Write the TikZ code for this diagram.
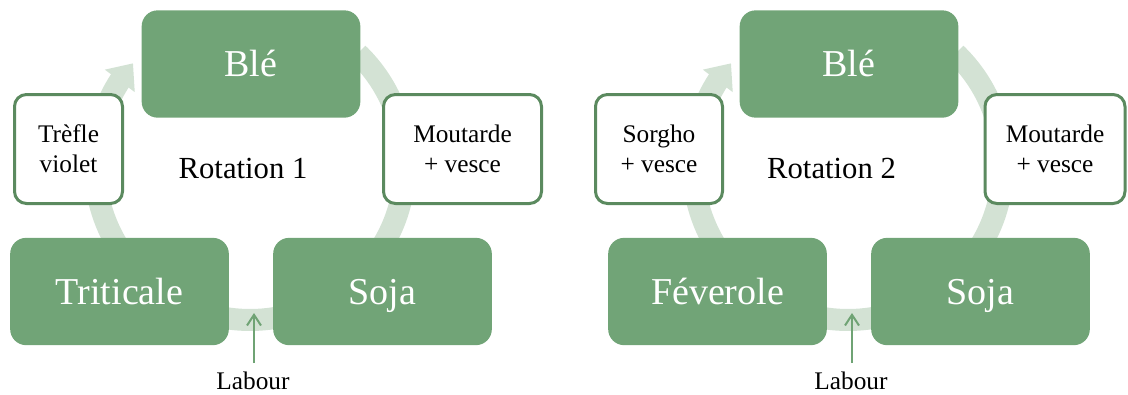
\documentclass[tikz,border=0pt]{standalone}
\usepackage{fontspec}
\setmainfont{Liberation Serif}
\usetikzlibrary{arrows.meta,bending}
\definecolor{boxgreen}{HTML}{71A477}
\definecolor{bordergreen}{HTML}{5B8A5F}
\definecolor{bandgreen}{HTML}{D3E2D4}
\definecolor{labgreen}{HTML}{6FA374}
\tikzset{
  bigbox/.style={rounded corners=12pt, fill=boxgreen, draw=none, text=white,
    font=\fontsize{28.5}{34}\selectfont, inner sep=0pt,
    minimum width=164pt, minimum height=80.5pt,
    text height=21pt, text depth=2pt},
  smallbox/.style={rounded corners=9pt, draw=bordergreen, line width=2.25pt, fill=white,
    font=\fontsize{19}{22.5}\selectfont, align=center, inner sep=0pt,
    minimum height=81.75pt},
  band/.style={draw=bandgreen, line width=16.5pt},
  bandtip/.style={band, -{Triangle[length=16.5pt,width=27pt,flex]}},
  rottext/.style={font=\fontsize{23}{27}\selectfont, anchor=base, inner sep=0pt},
  labtext/.style={font=\fontsize{19}{22}\selectfont, anchor=base, inner sep=0pt},
  labarrow/.style={draw=labgreen, line width=1.5pt, -{Straight Barb[length=8pt,width=10.5pt]}}
}
\begin{document}
\begin{tikzpicture}[x=0.75pt,y=0.75pt]
\useasboundingbox (0,0) rectangle (1128,394);

% ---------- Rotation 1 ----------
\coordinate (c1) at (250,229);
\draw[bandtip] (c1) ++(46:155) arc[start angle=46, end angle=-42, radius=155];
\draw[bandtip] (c1) ++(-70:155) arc[start angle=-70, end angle=-112, radius=155];
\draw[bandtip] (c1) ++(215:155) arc[start angle=215, end angle=139, radius=155];

\node[bigbox] (ble1) at (251,330) {Blé};
\node[bigbox] (tri1) at (119.5,102.5) {Triticale};
\node[bigbox] (soja1) at (382.5,102.5) {Soja};
\node[smallbox, minimum width=81pt] (tref1) at (68.5,245) {Trèfle\\violet};
\node[smallbox, minimum width=118.5pt] (mout1) at (462.5,245) {Moutarde\\+ vesce};
\node[rottext] (rot1) at (243,216) {Rotation 1};
\node[labtext] (lab1) at (253,4.5) {Labour};
\coordinate (ls1) at (254,31);
\coordinate (la1) at (254,81);
\draw[labarrow] (ls1) -- (la1);

% ---------- Rotation 2 ----------
\coordinate (c2) at (848,229);
\draw[bandtip] (c2) ++(46:155) arc[start angle=46, end angle=-42, radius=155];
\draw[bandtip] (c2) ++(-70:155) arc[start angle=-70, end angle=-112, radius=155];
\draw[bandtip] (c2) ++(215:155) arc[start angle=215, end angle=139, radius=155];

\node[bigbox] (ble2) at (849,330) {Blé};
\node[bigbox] (fev2) at (717.5,102.5) {Féverole};
\node[bigbox] (soja2) at (980.5,102.5) {Soja};
\node[smallbox, minimum width=95.25pt] (sorg2) at (659,245) {Sorgho\\+ vesce};
\node[smallbox, minimum width=105pt] (mout2) at (1055,245) {Moutarde\\+ vesce};
\node[rottext] (rot2) at (831.5,216) {Rotation 2};
\node[labtext] (lab2) at (851,4.5) {Labour};
\coordinate (ls2) at (852,31);
\coordinate (la2) at (852,81);
\draw[labarrow] (ls2) -- (la2);
\end{tikzpicture}
\end{document}
